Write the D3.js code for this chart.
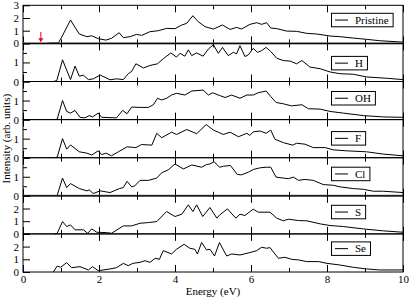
<!DOCTYPE html>
<html><head><meta charset="utf-8">
<script src="https://cdn.jsdelivr.net/npm/d3@7"></script>
<style>
html,body{margin:0;padding:0;background:#fff;}
svg{display:block;font-family:"Liberation Serif","Times New Roman",serif;}
</style></head>
<body>
<svg id="c" width="410" height="298"></svg>
<script>
// ---------- data ----------
const panelNames = ["Pristine","H","OH","F","Cl","S","Se"];
const panelYMax = [3,2,2,2,2,3,3];
const yTickLabels = [[0,1,2,3],[0,1],[0,1],[0,1],[0,1],[0,1,2],[0,1,2]];
const xTickLabels = [0,2,4,6,8,10];
const xMinorTicks = [1,3,5,7,9];
const arrowEnergy = 0.47;

const pristine = [[0.62,0],[0.75,0.04],[0.93,0.03],[1.02,0.5],[1.25,1.84],[1.48,0.74],[1.68,0.53],[1.81,0.6],[1.98,0.37],[2.18,0.26],[2.33,0.4],[2.53,0.84],[2.64,0.45],[2.82,0.53],[2.99,0.71],[3.12,0.63],[3.34,0.92],[3.56,1.0],[3.78,1.18],[4.0,1.16],[4.18,1.45],[4.31,1.58],[4.47,2.18],[4.61,1.71],[4.79,1.32],[5.01,1.13],[5.25,1.45],[5.45,1.1],[5.62,1.26],[5.75,1.13],[5.97,1.5],[6.15,1.63],[6.28,1.5],[6.41,1.63],[6.52,1.21],[6.68,1.16],[6.94,0.97],[7.2,0.95],[7.47,0.79],[7.73,0.74],[8.08,0.58],[8.34,0.53],[8.69,0.42],[9.04,0.32],[9.39,0.21],[10.0,0.1]];
const hydro = [[0.8,0],[0.89,0.05],[1.04,1.14],[1.25,0.1],[1.37,0.81],[1.48,0.28],[1.59,0.33],[1.72,0.1],[1.85,0.14],[2.03,0.34],[2.29,0.09],[2.46,0.14],[2.64,0.1],[2.77,0.41],[2.86,0.53],[2.97,0.93],[3.17,0.71],[3.34,0.84],[3.54,0.93],[3.69,1.19],[3.89,1.5],[4.04,1.28],[4.13,1.48],[4.26,1.33],[4.35,1.66],[4.44,1.36],[4.57,1.5],[4.74,1.33],[4.88,1.71],[5.01,1.93],[5.14,1.48],[5.25,1.79],[5.4,1.36],[5.54,1.53],[5.62,1.45],[5.71,1.88],[5.84,1.31],[5.93,1.4],[6.06,1.74],[6.17,1.53],[6.28,1.62],[6.4,1.79],[6.52,1.57],[6.68,1.22],[6.85,1.1],[7.03,1.07],[7.2,0.93],[7.34,1.1],[7.55,0.76],[7.82,0.67],[8.08,0.5],[8.34,0.41],[8.69,0.38],[9.04,0.24],[9.57,0.17],[10.0,0.1]];
const hydroxyl = [[0.84,0],[0.9,0.02],[1.04,1.0],[1.15,0.43],[1.25,0.34],[1.37,0.48],[1.5,0.12],[1.63,0.09],[1.74,0.21],[1.83,0.14],[1.98,0.34],[2.07,0.12],[2.46,0.09],[2.62,0.48],[2.74,0.31],[2.86,0.66],[3.08,0.64],[3.3,0.64],[3.43,0.78],[3.54,1.12],[3.65,1.03],[3.78,1.12],[3.91,1.29],[4.04,1.38],[4.26,1.29],[4.44,1.5],[4.74,1.55],[4.88,1.29],[4.99,1.41],[5.18,1.26],[5.32,1.16],[5.49,1.29],[5.71,1.12],[5.89,1.29],[6.06,1.29],[6.19,1.41],[6.4,1.5],[6.52,1.21],[6.66,0.9],[6.85,0.83],[7.07,0.72],[7.34,0.78],[7.51,0.57],[7.82,0.55],[8.08,0.43],[8.43,0.34],[8.96,0.21],[9.48,0.14],[10.0,0.12]];
const fluoro = [[0.84,0],[0.9,0.03],[1.04,1.0],[1.15,0.45],[1.25,0.67],[1.48,0.31],[1.68,0.24],[1.81,0.14],[1.98,0.36],[2.07,0.16],[2.18,0.24],[2.33,0.1],[2.51,0.31],[2.74,0.57],[2.97,0.53],[3.12,0.69],[3.39,0.66],[3.52,1.28],[3.65,1.05],[3.91,1.34],[4.04,1.22],[4.31,1.48],[4.57,1.26],[4.82,1.74],[5.01,1.45],[5.14,1.34],[5.27,1.22],[5.45,1.34],[5.67,1.1],[5.89,1.28],[5.97,1.17],[6.06,1.36],[6.24,1.4],[6.4,1.28],[6.52,1.45],[6.63,0.97],[6.85,0.79],[7.1,0.66],[7.2,0.76],[7.42,0.71],[7.64,0.53],[7.95,0.53],[8.17,0.41],[8.52,0.36],[9.04,0.31],[9.48,0.19],[10.0,0.1]];
const chloro = [[0.84,0],[0.9,0.02],[1.04,0.93],[1.15,0.43],[1.25,0.64],[1.48,0.38],[1.68,0.26],[1.74,0.31],[1.85,0.12],[2.03,0.26],[2.29,0.17],[2.54,0.38],[2.64,0.43],[2.74,0.76],[2.86,0.47],[2.94,0.52],[3.08,0.81],[3.3,0.81],[3.52,0.93],[3.65,1.21],[3.82,1.36],[4.0,1.67],[4.22,1.41],[4.44,1.62],[4.7,1.5],[4.83,1.64],[4.92,1.67],[5.03,1.79],[5.17,1.5],[5.27,1.55],[5.46,1.59],[5.64,1.12],[5.75,1.1],[5.93,1.24],[6.06,1.38],[6.24,1.47],[6.4,1.5],[6.52,1.5],[6.66,0.98],[6.85,0.93],[6.98,0.9],[7.12,0.98],[7.25,0.81],[7.42,0.86],[7.64,0.81],[7.9,0.59],[8.17,0.55],[8.34,0.47],[8.69,0.38],[8.96,0.34],[9.22,0.24],[9.48,0.24],[10.0,0.17]];
const sulfur = [[0.84,0],[0.9,0.05],[1.04,0.97],[1.15,0.58],[1.25,0.71],[1.37,0.32],[1.59,0.32],[1.7,0.05],[1.81,0.39],[1.94,0.13],[2.2,0.1],[2.33,0.05],[2.64,0.63],[2.86,0.63],[3.08,0.84],[3.3,0.89],[3.52,0.97],[3.78,1.76],[4.0,1.37],[4.18,1.55],[4.35,2.29],[4.47,1.76],[4.57,2.29],[4.73,1.37],[4.92,2.08],[5.1,1.24],[5.18,1.5],[5.38,1.97],[5.6,1.24],[5.71,1.55],[5.84,1.45],[6.06,1.95],[6.19,1.71],[6.5,1.71],[6.68,1.24],[6.85,1.03],[6.98,1.16],[7.25,1.05],[7.47,1.03],[7.82,0.79],[8.08,0.66],[8.43,0.58],[8.96,0.39],[9.48,0.24],[10.0,0.13]];
const selenium = [[0.8,0],[0.9,0.47],[0.99,0.37],[1.15,0.74],[1.28,0.34],[1.5,0.42],[1.72,0.16],[1.83,0.42],[1.98,0.1],[2.29,0.24],[2.46,0.34],[2.64,0.68],[2.77,0.5],[2.89,0.68],[3.08,0.76],[3.21,0.89],[3.34,0.76],[3.48,1.08],[3.59,1.0],[3.69,1.68],[3.91,1.42],[4.04,1.79],[4.24,2.18],[4.39,1.87],[4.52,1.79],[4.59,1.42],[4.7,2.32],[4.83,1.74],[4.92,1.79],[5.04,1.26],[5.17,2.32],[5.36,1.26],[5.49,1.42],[5.71,1.34],[5.97,1.53],[6.15,1.68],[6.28,1.95],[6.41,1.87],[6.5,1.92],[6.72,1.08],[6.89,1.16],[7.07,1.0],[7.25,0.95],[7.47,0.82],[7.78,0.82],[8.0,0.68],[8.34,0.55],[8.69,0.37],[9.04,0.24],[9.39,0.16],[10.0,0.16]];
const series = [pristine, hydro, hydroxyl, fluoro, chloro, sulfur, selenium];

// ---------- layout ----------
const L = 23, R = 403, T = 5.3, PH = 38.1;
const legendOffsets = [8, 13, 10, 12, 9.5, 9.5, 8];
const thickBottoms = [0, 4];
const svg = d3.select("#c");
const x = d3.scaleLinear().domain([0,10]).range([L,R]);
const fs = 11;

series.forEach((data, i) => {
  const top = T + i*PH, bot = top + PH;
  const y = d3.scaleLinear().domain([0, panelYMax[i]]).range([bot, top]);
  const g = svg.append("g");

  g.append("g").attr("transform", `translate(0,${bot})`)
    .call(d3.axisBottom(x).tickValues(xTickLabels).tickSizeInner(-7).tickSizeOuter(0).tickPadding(3)
      .tickFormat(i === series.length-1 ? d3.format("d") : () => ""));
  g.append("g").attr("transform", `translate(0,${bot})`)
    .call(d3.axisBottom(x).tickValues(xMinorTicks).tickSizeInner(-4).tickSizeOuter(0).tickFormat(() => ""));
  g.append("g").attr("transform", `translate(0,${top})`)
    .call(d3.axisTop(x).tickValues(xTickLabels).tickSizeInner(-7).tickSizeOuter(0).tickFormat(() => ""));
  g.append("g").attr("transform", `translate(0,${top})`)
    .call(d3.axisTop(x).tickValues(xMinorTicks).tickSizeInner(-4).tickSizeOuter(0).tickFormat(() => ""));

  const majors = d3.range(0, panelYMax[i]+0.001, 1);
  g.append("g").attr("transform", `translate(${L},0)`)
    .call(d3.axisLeft(y).tickValues(majors).tickSizeInner(-7).tickSizeOuter(0).tickPadding(4)
      .tickFormat(d => yTickLabels[i].includes(d) ? d3.format("d")(d) : ""));
  if (panelYMax[i] === 2) {
    g.append("g").attr("transform", `translate(${L},0)`)
      .call(d3.axisLeft(y).tickValues([0.5,1.5]).tickSizeInner(-4).tickSizeOuter(0).tickFormat(() => ""));
  }
  g.selectAll(".domain").remove();
  g.selectAll(".tick line").attr("stroke", "#000").attr("stroke-width", 1);
  g.selectAll(".tick text").attr("font-size", fs).attr("font-family", "Liberation Serif").attr("fill", "#000");

  g.append("path").datum(data)
    .attr("fill", "none").attr("stroke", "#000").attr("stroke-width", 1)
    .attr("d", d3.line().x(d => x(d[0])).y(d => y(d[1])));

  g.append("rect").attr("x", L).attr("y", top).attr("width", R-L).attr("height", PH)
    .attr("fill", "none").attr("stroke", "#000").attr("stroke-width", 1);
  if (thickBottoms.includes(i)) {
    g.append("line").attr("x1", L).attr("x2", R).attr("y1", bot).attr("y2", bot)
      .attr("stroke", "#6a6a6a").attr("stroke-width", 2);
  }

  // legend
  const ly = top + legendOffsets[i];
  const lg = g.append("g");
  const box = lg.append("rect").attr("x", 331.5).attr("y", ly).attr("height", 13.5)
    .attr("fill", "#fff").attr("stroke", "#000").attr("stroke-width", 1);
  const txt = lg.append("text").attr("x", 355).attr("y", ly + 10.5)
    .attr("font-size", fs).attr("fill", "#000").text(panelNames[i]);
  const tw = txt.node().getComputedTextLength();
  box.attr("width", 355 + tw + 4.5 - 331.5);
  lg.append("line").attr("x1", 335).attr("x2", 348).attr("y1", ly + 6.75).attr("y2", ly + 6.75)
    .attr("stroke", "#000").attr("stroke-width", 1);

  if (i === 0) {
    const ax = x(arrowEnergy), y1 = y(0.9), y2 = y(0.1);
    g.append("line").attr("x1", ax).attr("x2", ax).attr("y1", y1).attr("y2", y2 - 3)
      .attr("stroke", "#e8001c").attr("stroke-width", 1);
    g.append("path").attr("d", `M${ax-2.5},${y2-4}L${ax+2.5},${y2-4}L${ax},${y2}Z`).attr("fill", "#e8001c");
  }
});

svg.append("text").attr("x", (L+R)/2).attr("y", 295).attr("text-anchor", "middle")
  .attr("font-size", fs).attr("fill", "#000").text("Energy (eV)");
svg.append("text").attr("transform", `translate(10,${T + 3.5*PH}) rotate(-90)`).attr("text-anchor", "middle")
  .attr("font-size", fs).attr("fill", "#000").text("Intensity (arb. units)");
</script>
</body></html>
